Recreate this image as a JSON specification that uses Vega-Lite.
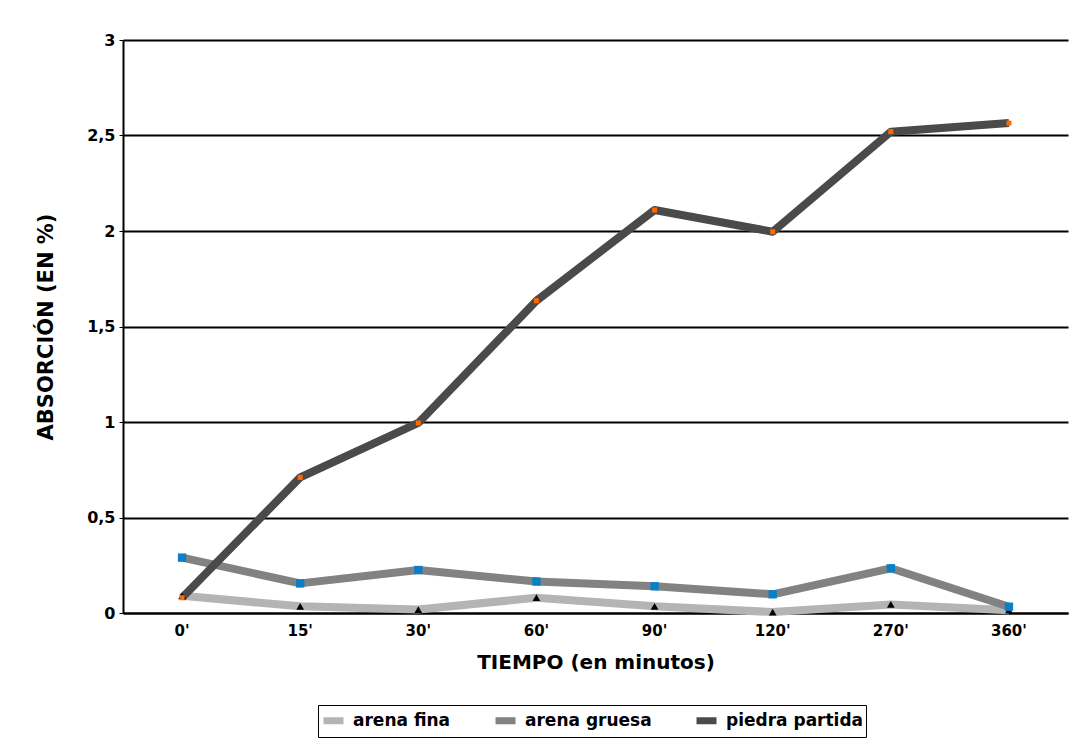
{
  "$schema": "https://vega.github.io/schema/vega-lite/v6.json",
  "autosize": {"type": "none"},
  "padding": {"left": 123, "top": 40, "right": 21, "bottom": 131},
  "width": 945,
  "height": 573,
  "background": "white",
  "config": {
    "font": "DejaVu Sans",
    "view": {"stroke": null},
    "axis": {"labelFont": "DejaVu Sans", "titleFont": "DejaVu Sans", "labelColor": "black", "titleColor": "black"},
    "legend": {"labelFont": "DejaVu Sans"}
  },
  "data": {
    "values": [
      {"tiempo": "0'", "serie": "arena fina", "v": 0.09},
      {"tiempo": "15'", "serie": "arena fina", "v": 0.035},
      {"tiempo": "30'", "serie": "arena fina", "v": 0.018},
      {"tiempo": "60'", "serie": "arena fina", "v": 0.08},
      {"tiempo": "90'", "serie": "arena fina", "v": 0.035},
      {"tiempo": "120'", "serie": "arena fina", "v": 0.005},
      {"tiempo": "270'", "serie": "arena fina", "v": 0.045},
      {"tiempo": "360'", "serie": "arena fina", "v": 0.015},
      {"tiempo": "0'", "serie": "arena gruesa", "v": 0.29},
      {"tiempo": "15'", "serie": "arena gruesa", "v": 0.155},
      {"tiempo": "30'", "serie": "arena gruesa", "v": 0.225},
      {"tiempo": "60'", "serie": "arena gruesa", "v": 0.165},
      {"tiempo": "90'", "serie": "arena gruesa", "v": 0.14},
      {"tiempo": "120'", "serie": "arena gruesa", "v": 0.098},
      {"tiempo": "270'", "serie": "arena gruesa", "v": 0.234},
      {"tiempo": "360'", "serie": "arena gruesa", "v": 0.033},
      {"tiempo": "0'", "serie": "piedra partida", "v": 0.08},
      {"tiempo": "15'", "serie": "piedra partida", "v": 0.71},
      {"tiempo": "30'", "serie": "piedra partida", "v": 0.995},
      {"tiempo": "60'", "serie": "piedra partida", "v": 1.635},
      {"tiempo": "90'", "serie": "piedra partida", "v": 2.11},
      {"tiempo": "120'", "serie": "piedra partida", "v": 1.996},
      {"tiempo": "270'", "serie": "piedra partida", "v": 2.52},
      {"tiempo": "360'", "serie": "piedra partida", "v": 2.565}
    ]
  },
  "encoding": {
    "x": {
      "field": "tiempo", "type": "ordinal",
      "sort": ["0'", "15'", "30'", "60'", "90'", "120'", "270'", "360'"],
      "scale": {"type": "band", "paddingInner": 0, "paddingOuter": 0},
      "axis": {
        "title": "TIEMPO (en minutos)", "titleFontSize": 20, "titleFontWeight": "bold", "titlePadding": 14,
        "labelAngle": 0, "labelFontSize": 15, "labelFontWeight": "bold", "labelPadding": 10,
        "ticks": false, "domainColor": "black", "domainWidth": 2, "grid": false
      }
    },
    "y": {
      "field": "v", "type": "quantitative",
      "scale": {"domain": [0, 3], "nice": false, "zero": true},
      "axis": {
        "title": "ABSORCIÓN (EN %)", "titleFontSize": 21, "titleFontWeight": "bold", "titlePadding": 30,
        "values": [0, 0.5, 1, 1.5, 2, 2.5, 3],
        "labelExpr": "replace(toString(datum.value), '.', ',')",
        "labelFontSize": 16, "labelFontWeight": "bold", "labelPadding": 4,
        "tickSize": 4, "tickColor": "black", "domainColor": "black", "domainWidth": 2,
        "grid": true, "gridColor": "black", "gridWidth": 2
      }
    }
  },
  "layer": [
    {
      "mark": {"type": "line", "strokeWidth": 8, "strokeJoin": "round"},
      "encoding": {
        "color": {
          "field": "serie", "type": "nominal",
          "scale": {"domain": ["arena fina", "arena gruesa", "piedra partida"], "range": ["#b4b4b4", "#828282", "#4a4a4a"]},
          "legend": {
            "title": null, "orient": "none", "legendX": 195, "legendY": 665, "direction": "horizontal",
            "symbolType": "stroke", "symbolStrokeWidth": 7, "symbolSize": 400,
            "labelFontSize": 17, "labelFontWeight": "bold", "labelColor": "black", "labelLimit": 300,
            "strokeColor": "black", "fillColor": "white", "padding": 2, "offset": 0,
            "columnPadding": 30, "labelOffset": 6
          }
        }
      }
    },
    {
      "transform": [{"filter": "datum.serie === 'arena fina'"}],
      "mark": {"type": "point", "filled": true, "opacity": 1, "shape": "triangle-up", "size": 60, "color": "black"}
    },
    {
      "transform": [{"filter": "datum.serie === 'arena gruesa'"}],
      "mark": {"type": "point", "filled": true, "opacity": 1, "shape": "square", "size": 70, "color": "#0a7fc6"}
    },
    {
      "transform": [{"filter": "datum.serie === 'piedra partida'"}],
      "mark": {"type": "point", "filled": true, "opacity": 1, "shape": "square", "size": 25, "color": "#ff6a00"}
    }
  ]
}
